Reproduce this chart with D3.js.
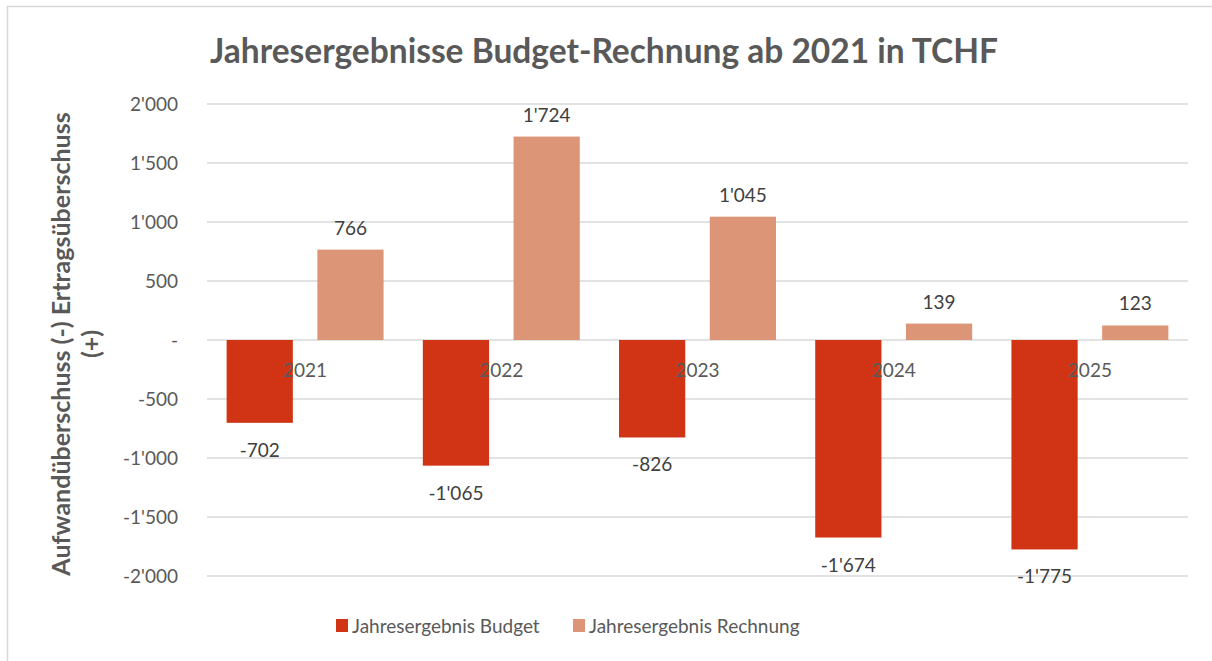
<!DOCTYPE html>
<html>
<head>
<meta charset="utf-8">
<script src="https://cdn.jsdelivr.net/npm/d3@7"></script>
<style>
  body { margin: 0; background: #fff; }
  svg { font-family: Lato, "Open Sans", sans-serif; }
</style>
</head>
<body>
<svg id="chart"></svg>
<script>
const years = ["2021", "2022", "2023", "2024", "2025"];
const budget = [-702, -1065, -826, -1674, -1775];
const rechnung = [766, 1724, 1045, 139, 123];
const yTicks = [2000, 1500, 1000, 500, 0, -500, -1000, -1500, -2000];
const seriesNames = ["Jahresergebnis Budget", "Jahresergebnis Rechnung"];
const seriesColors = ["#d13415", "#dc9677"];

const W = 1212, H = 661;
const margin = { top: 104, right: 24, bottom: 85, left: 207 };
const width = W - margin.left - margin.right;
const height = H - margin.top - margin.bottom;

// Swiss style thousands separator, plain hyphen for negatives, "-" for zero
const fmt = v => v === 0 ? "-" : d3.format(",")(v).replace(/,/g, "'").replace("\u2212", "-");

const svg = d3.select("#chart").attr("width", W).attr("height", H);

// outer chart border (only top/left visible in the frame)
svg.append("rect")
    .attr("x", 7.5).attr("y", 6.5)
    .attr("width", W + 10).attr("height", H + 10)
    .attr("fill", "none").attr("stroke", "#d9d9d9").attr("stroke-width", 1.5);

const chart = svg.append("g").attr("transform", `translate(${margin.left},${margin.top})`);

const x0 = d3.scaleBand().domain(years).range([0, width]).paddingInner(0.2).paddingOuter(0.1);
const x1 = d3.scaleBand().domain([0, 1]).range([0, x0.bandwidth()]).paddingInner(0.27);
const y = d3.scaleLinear().domain([-2000, 2000]).range([height, 0]);

// grid lines
chart.append("g").selectAll("line")
    .data(yTicks).join("line")
    .attr("x1", 0).attr("x2", width)
    .attr("y1", d => y(d)).attr("y2", d => y(d))
    .attr("stroke", "#d9d9d9").attr("stroke-width", 1.5);

// y axis labels
const yAxis = d3.axisLeft(y).tickValues(yTicks).tickFormat(fmt).tickSize(0).tickPadding(29);
chart.append("g").call(yAxis)
    .call(g => g.select(".domain").remove())
    .call(g => g.selectAll("text")
        .attr("fill", "#595959").style("font-size", "19px").style("font-family", "Lato, sans-serif"));

const groups = chart.selectAll(".year").data(years).join("g")
    .attr("class", "year")
    .attr("transform", d => `translate(${x0(d)},0)`);

// bars
groups.append("rect")
    .attr("x", x1(0)).attr("width", x1.bandwidth())
    .attr("y", (d, i) => y(Math.max(0, budget[i])))
    .attr("height", (d, i) => Math.abs(y(budget[i]) - y(0)))
    .attr("fill", seriesColors[0]);

groups.append("rect")
    .attr("x", x1(1)).attr("width", x1.bandwidth())
    .attr("y", (d, i) => y(Math.max(0, rechnung[i])))
    .attr("height", (d, i) => Math.abs(y(rechnung[i]) - y(0)))
    .attr("fill", seriesColors[1]);

// category labels
groups.append("text")
    .attr("x", x0.bandwidth() / 2).attr("y", y(0) + 37)
    .attr("text-anchor", "middle")
    .attr("fill", "#595959").style("font-size", "19px")
    .text(d => d);

// value labels
groups.append("text")
    .attr("x", x1(0) + x1.bandwidth() / 2)
    .attr("y", (d, i) => y(budget[i]) + 34)
    .attr("text-anchor", "middle")
    .attr("fill", "#404040").style("font-size", "19px")
    .text((d, i) => fmt(budget[i]));

groups.append("text")
    .attr("x", x1(1) + x1.bandwidth() / 2)
    .attr("y", (d, i) => y(rechnung[i]) - 15)
    .attr("text-anchor", "middle")
    .attr("fill", "#404040").style("font-size", "19px")
    .text((d, i) => fmt(rechnung[i]));

// title
svg.append("text")
    .attr("x", 604).attr("y", 63)
    .attr("text-anchor", "middle")
    .attr("fill", "#595959")
    .style("font-size", "33.5px").style("font-weight", "bold")
    .text("Jahresergebnisse Budget-Rechnung ab 2021 in TCHF");

// y axis title
const yTitle = svg.append("text")
    .attr("transform", `translate(0,${margin.top + y(0) + 4}) rotate(-90)`)
    .attr("text-anchor", "middle")
    .attr("fill", "#595959")
    .style("font-size", "25px").style("font-weight", "bold");
yTitle.append("tspan").attr("x", 0).attr("y", 70).text("Aufwandüberschuss (-)  Ertragsüberschuss");
yTitle.append("tspan").attr("x", 0).attr("y", 100).text("(+)");

// legend
const legend = svg.append("g").attr("transform", "translate(336,626)");
const legendX = [0, 237];
seriesNames.forEach((name, i) => {
    const g = legend.append("g").attr("transform", `translate(${legendX[i]},0)`);
    g.append("rect").attr("x", 0).attr("y", -7).attr("width", 12).attr("height", 13).attr("fill", seriesColors[i]);
    g.append("text").attr("x", 16).attr("y", 7)
        .attr("fill", "#595959").style("font-size", "19px").text(name);
});
</script>
</body>
</html>
